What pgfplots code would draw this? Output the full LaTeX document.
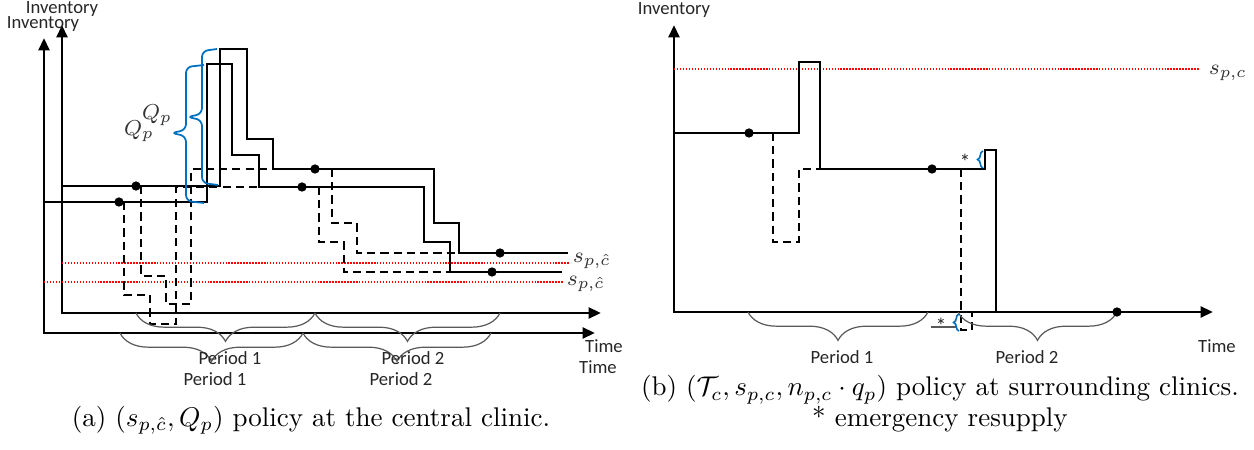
\documentclass[border=0pt]{standalone}
\usepackage{pgfplots}
\pgfplotsset{compat=1.18}
\usepackage{fontspec}
\newfontfamily\calib{Carlito}
\usetikzlibrary{arrows.meta,decorations.pathreplacing}
\definecolor{obl}{RGB}{0,112,192}
\tikzset{
  ln/.style={black, line width=0.63pt, mark=none},
  dsh/.style={ln, dash pattern=on 3pt off 1.9pt},
  ax/.style={black, line width=1.1pt, mark=none, {Triangle[length=4.6pt,width=4pt]}-{Triangle[length=4.6pt,width=4pt]}},
  thr/.style={red, line width=0.6pt, dash pattern=on 0.5pt off 0.6pt, mark=none},
  gb/.style={draw=black!65, line width=0.45pt, decorate, decoration={brace, amplitude=10.5pt}},
  bb/.style={draw=obl, line width=0.6pt, decorate},
  bq/.style={draw=obl, line width=0.65pt, rounded corners=2.2pt},
  lbl/.style={font=\calib\fontsize{6.9}{8}\selectfont, text=black!85, inner sep=0pt},
  mth/.style={font=\fontsize{8}{9}\selectfont, text=black!80, inner sep=0pt}}

\begin{document}
\begin{tikzpicture}
\begin{axis}[hide axis, scale only axis, width=464pt, height=166.5pt,
  xmin=0, xmax=1254, ymin=0, ymax=450, y dir=reverse, clip=false,
  dot/.style={only marks, mark=*, mark size=1.5pt, black}]

\draw[draw=none] (axis cs:0,0) rectangle (axis cs:1254,450);

% ---- (a) central clinic
\addplot[ax] coordinates {(44,38) (44,333) (595,333)};
\addplot[ax] coordinates {(62,25) (62,313) (601,313)};
\addplot[thr] coordinates {(62,263) (570,263)};
\addplot[thr] coordinates {(44,282) (563,282)};

\addplot[ln] coordinates {(62,186) (220,186) (220,49) (247,49) (247,139) (273,139) (273,169) (434,169) (434,223) (459,223) (459,253) (568,253)};
\addplot[ln] coordinates {(44,202) (207,202) (207,64) (232,64) (232,155) (259,155) (259,187) (424,187) (424,242) (450,242) (450,272) (562,272)};

\addplot[dsh] coordinates {(141,186) (141,276) (166,276) (166,304) (191,304) (191,169) (273,169)};
\addplot[dsh] coordinates {(332,169) (332,223) (357,223) (357,253) (459,253)};
\addplot[dsh] coordinates {(124,202) (124,295) (150,295) (150,324) (176,324) (176,187) (259,187)};
\addplot[dsh] coordinates {(319,187) (319,242) (344,242) (344,272) (450,272)};

\addplot[dot] coordinates {(136,186) (315,169) (500,253) (119,202) (302,187) (492,272)};

% blue order-quantity braces
\draw[bq] (axis cs:217,49) -- (axis cs:202,51) -- (axis cs:202,114) -- (axis cs:187,117) -- (axis cs:202,120) -- (axis cs:202,183) -- (axis cs:218,185);
\draw[bq] (axis cs:204,65) -- (axis cs:186,67) -- (axis cs:186,130) -- (axis cs:171,133) -- (axis cs:186,136) -- (axis cs:186,201) -- (axis cs:204,203);
\node[mth] at (axis cs:157,115) {$Q_p$};
\node[mth] at (axis cs:139,131) {$Q_p$};
\node[mth] at (axis cs:592,261) {$s_{p,\hat{c}}$};
\node[mth] at (axis cs:586,284) {$s_{p,\hat{c}}$};

\draw[gb] (axis cs:315,313) -- (axis cs:136,313);
\draw[gb] (axis cs:500,313) -- (axis cs:315,313);
\draw[gb] (axis cs:303,333) -- (axis cs:120,333);
\draw[gb] (axis cs:491,333) -- (axis cs:303,333);

\node[lbl] at (axis cs:62,9) {Inventory};
\node[lbl] at (axis cs:43,24) {Inventory};
\node[lbl] at (axis cs:230,358) {Period 1};
\node[lbl] at (axis cs:215,379) {Period 1};
\node[lbl] at (axis cs:413,358) {Period 2};
\node[lbl] at (axis cs:401,379) {Period 2};
\node[lbl] at (axis cs:604,346) {Time};
\node[lbl] at (axis cs:598,367) {Time};

\node[font=\fontsize{10}{12}\selectfont, inner sep=0pt] at (axis cs:311,420)
  {(a) $(s_{p,\hat{c}}, Q_p)$ policy at the central clinic.};

% ---- (b) surrounding clinics
\addplot[ax] coordinates {(674,25) (674,312) (1213,312)};
\addplot[thr] coordinates {(674,69) (1200,69)};
\addplot[ln] coordinates {(674,133) (799,133) (799,62) (820,62) (820,169) (985,169) (985,150) (996,150) (996,312)};
\addplot[dsh] coordinates {(773,133) (773,242) (799,242) (799,169) (820,169)};
\addplot[dsh] coordinates {(961,169) (961,330) (972,330) (972,312)};
\addplot[dot] coordinates {(749,133) (932,169) (1117,312)};

\node[mth] at (axis cs:1228,73) {$s_{p,c}$};
\draw[bb, decoration={brace, amplitude=2pt}] (axis cs:983,168) -- (axis cs:983,151);
\draw[bb, decoration={brace, amplitude=2pt}] (axis cs:959,331) -- (axis cs:959,314);
\node[lbl, font=\calib\fontsize{8}{9}\selectfont] at (axis cs:965,162) {*};
\node[lbl, font=\calib\fontsize{8}{9}\selectfont] at (axis cs:941,326) {*};

\draw[gb] (axis cs:928,312) -- (axis cs:748,312);
\draw[gb] (axis cs:1117,312) -- (axis cs:958,312);
\draw[draw=black!65, line width=0.45pt] (axis cs:931,327) -- (axis cs:956,327);

\node[lbl] at (axis cs:674,10) {Inventory};
\node[lbl] at (axis cs:842,357) {Period 1};
\node[lbl] at (axis cs:1027,357) {Period 2};
\node[lbl] at (axis cs:1217,346) {Time};

\node[font=\fontsize{10}{10}\selectfont, inner sep=0pt, align=center] at (axis cs:940,404)
  {(b) $(\mathcal{T}_c, s_{p,c}, n_{p,c}\cdot q_p)$ policy at surrounding clinics.\\ * emergency resupply};
\end{axis}
\end{tikzpicture}
\end{document}
